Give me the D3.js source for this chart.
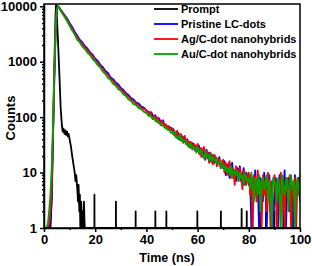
<!DOCTYPE html>
<html>
<head>
<meta charset="utf-8">
<script src="https://cdn.jsdelivr.net/npm/d3@7"></script>
<style>
  body { margin: 0; background: #fff; }
  svg { display: block; font-family: "Liberation Sans", Arial, sans-serif; font-weight: bold; }
</style>
</head>
<body>
<div id="chart"></div>
<script>
// time channels (ns) shared by the three sample curves
const time = [0,0.5,1,1.5,2,2.5,3,3.5,4,4.5,5,5.5,6,6.5,7,7.5,8,8.5,9,9.5,10,
  11,12,13,14,15,16,17,18,19,20,21,22,23,24,25,26,27,28,29,30,31,32,33,34,35,36,37,38,39,
  40,40.5,41,41.5,42,42.5,43,43.5,44,44.5,45,45.5,46,46.5,47,47.5,48,48.5,49,49.5,
  50,50.5,51,51.5,52,52.5,53,53.5,54,54.5,55,55.5,56,56.5,57,57.5,58,58.5,59,59.5,
  60,60.5,61,61.5,62,62.5,63,63.5,64,64.5,65,65.5,66,66.5,67,67.5,68,68.5,69,69.5,
  70,70.5,71,71.5,72,72.5,73,73.5,74,74.5,75,75.5,76,76.5,77,77.5,78,78.5,79,79.5,
  80,80.5,81,81.5,82,82.5,83,83.5,84,84.5,85,85.5,86,86.5,87,87.5,88,88.5,89,89.5,
  90,90.5,91,91.5,92,92.5,93,93.5,94,94.5,95,95.5,96,96.5,97,97.5,98,98.5,99,99.5,100];

const pristine = [1,1,1,1,1,1.3,4,40,400,3000,8500,10000,9500,8700,8100,7500,7000,6500,6000,5500,5000,
  4250,3480,2950,2470,2230,1900,1720,1470,1340,1130,1030,880,795,680,625,520,485,420,390,335,310,270,250,221,208,183,175,155,149,
  130,128,115,109,121,104,96,108,90,88,95,80,77,88,70,73,69,60,67,63,
  58,61,47,53,42,52,39,47,45,36,42,33,40,30,35,28,34,32,25,30,
  25,31,21,27,20,25,17,26,18,23,16,21,20,15,19,17,14,19,13,15,
  12,16,9,14,11,8,13,15,8,11,7,12,10,13,7,9,12,6,10,8,
  6,9,1,8,5,11,4,7,1,8,6,3,10,5,1,7,9,4,6,1,
  4,8,6,1,9,3,7,5,11,1,6,8,2,7,5,1,9,4,6,8,3];

const agHybrid = [1,1,1,1,1.2,2,6,50,500,3300,8800,10000,9300,8500,7900,7300,6800,6200,5700,5200,4700,
  3950,3200,2740,2320,2080,1770,1600,1380,1250,1060,955,815,740,630,580,485,452,388,362,312,290,253,234,206,194,173,163,145,139,
  135,110,119,125,104,92,108,97,84,99,83,72,86,78,66,75,62,70,58,61,
  64,49,55,44,57,41,47,50,36,43,46,33,38,29,36,35,26,33,31,24,
  33,22,28,19,26,29,18,24,22,15,23,20,14,21,19,13,18,17,12,16,
  17,10,15,9,14,16,8,12,11,6,13,10,7,12,9,5,11,10,6,9,
  10,4,8,1,9,6,3,11,5,7,1,9,4,8,2,10,5,1,7,6,
  9,4,1,7,5,10,2,6,1,8,5,3,9,1,6,4,8,1,7,5,9];

const auHybrid = [1,1,1,1.2,2,4,12,70,600,3600,9000,10000,9100,8300,7600,7000,6500,5900,5400,4900,4450,
  3650,3080,2480,2230,1870,1680,1450,1310,1120,1010,865,780,665,600,510,470,400,372,318,300,258,242,208,197,172,165,146,140,125,
  118,115,104,110,99,93,98,85,90,79,80,78,71,70,69,62,64,58,60,52,
  52,50,56,43,45,40,48,38,41,34,38,36,31,34,28,33,27,29,28,23,
  29,24,22,26,21,18,24,19,21,17,22,15,19,17,16,18,14,15,16,12,
  14,11,13,10,12,9,13,8,11,10,9,11,7,10,8,9,6,10,8,7,
  8,5,10,6,3,8,7,4,9,2,7,8,5,6,9,3,7,5,1,8,
  6,7,3,8,5,1,9,6,4,7,8,2,6,9,5,7,1,6,8,4,7];

// instrument response (prompt)
const promptTime = [0,2.5,3,3.5,4,4.5,4.7,5,5.5,6,6.5,7,7.3,7.6,8,8.3,8.6,9,9.3,9.6,10,10.5,11,11.5,12,12.3,12.6,13,13.3,13.5,13.8,14,14.2,14.5,14.8,15,15.3,15.6,15.9];
const promptCounts = [1,1,3,40,700,7000,10500,7000,2200,600,150,70,55,62,50,58,48,55,45,50,40,30,20,14,10,7,9,5,3,6,2,4,1,3,1,2,1,3,1];
const spikeTime = [19.7,28.1,35.8,43.5,47.8,59.9,69.1,77.2,79.2,81.4,84.4,86.7,90,93.5,96.8];
const spikeCounts = [4,3,2,2,2,2,2,2.2,2,2,2,2,2,2,2];

const seriesNames = ["Prompt", "Pristine LC-dots", "Ag/C-dot nanohybrids", "Au/C-dot nanohybrids"];
const seriesColors = ["#000000", "#0000ff", "#ff0000", "#00a300"];

const xTicks = [0, 20, 40, 60, 80, 100];
const xMinor = [10, 30, 50, 70, 90];
const yTicks = [1, 10, 100, 1000, 10000];

let W = 312, H = 266;
let margin = { top: 4, right: 12, bottom: 38, left: 44 };

let svg = d3.select("#chart").append("svg")
  .attr("width", W)
  .attr("height", H);

let x = d3.scaleLinear().domain([0, 100]).range([margin.left, W - margin.right]);
let y = d3.scaleLog().domain([1, 11000]).range([H - margin.bottom, margin.top]);

svg.append("clipPath").attr("id", "clip")
  .append("rect")
  .attr("x", x(0)).attr("y", y(11000))
  .attr("width", x(100) - x(0)).attr("height", y(1) - y(11000));

// build prompt points, spikes as thin vertical strokes
let promptPts = promptTime.map((t, i) => [t, promptCounts[i]]);
spikeTime.forEach((t, i) => {
  promptPts.push([t - 0.02, 1], [t, spikeCounts[i]], [t + 0.02, 1]);
});
promptPts.push([100, 1]);

let allSeries = [
  promptPts,
  time.map((t, i) => [t, pristine[i]]),
  time.map((t, i) => [t, agHybrid[i]]),
  time.map((t, i) => [t, auHybrid[i]])
];

let line = d3.line().x(d => x(d[0])).y(d => y(d[1]));

let plot = svg.append("g").attr("clip-path", "url(#clip)");
allSeries.forEach((s, i) => {
  plot.append("path")
    .datum(s)
    .attr("fill", "none")
    .attr("stroke", seriesColors[i])
    .attr("stroke-width", 1.8)
    .attr("stroke-linejoin", "round")
    .attr("d", line);
});

// axes
svg.append("g")
  .attr("transform", "translate(0," + y(1) + ")")
  .call(d3.axisBottom(x).tickValues(xTicks).tickSize(4).tickSizeOuter(0).tickFormat(d3.format("d")));
svg.append("g")
  .attr("transform", "translate(0," + y(1) + ")")
  .call(d3.axisBottom(x).tickValues(xMinor).tickSize(2).tickSizeOuter(0).tickFormat(""))
  .select(".domain").remove();

svg.append("g")
  .attr("transform", "translate(" + x(0) + ",0)")
  .call(d3.axisLeft(y).tickValues(yTicks).tickSize(4).tickSizeOuter(0).tickFormat(d3.format("d")));
let yMinor = y.ticks().filter(v => yTicks.indexOf(v) < 0);
svg.append("g")
  .attr("transform", "translate(" + x(0) + ",0)")
  .call(d3.axisLeft(y).tickValues(yMinor).tickSize(2).tickSizeOuter(0).tickFormat(""))
  .select(".domain").remove();

svg.selectAll(".tick line").attr("stroke", "#000").attr("stroke-width", 1.5);
svg.selectAll(".domain").attr("stroke", "#000").attr("stroke-width", 1.5);
svg.selectAll(".tick text")
  .attr("fill", "#000")
  .style("font-size", "13px")
  .style("font-weight", "bold")
  .style("font-family", "'Liberation Sans', Arial, sans-serif");

// frame
svg.append("rect")
  .attr("x", x(0)).attr("y", y(11000))
  .attr("width", x(100) - x(0)).attr("height", y(1) - y(11000))
  .attr("fill", "none").attr("stroke", "#000").attr("stroke-width", 1.5);

// axis titles
svg.append("text")
  .attr("x", 167).attr("y", 262)
  .attr("text-anchor", "middle")
  .style("font-size", "12.5px")
  .text("Time (ns)");

svg.append("text")
  .attr("transform", "translate(15," + 118 + ") rotate(-90)")
  .attr("text-anchor", "middle")
  .style("font-size", "13px")
  .text("Counts");

// legend
let legend = svg.append("g").attr("transform", "translate(154,9)");
seriesNames.forEach((name, i) => {
  let row = legend.append("g").attr("transform", "translate(0," + i * 15 + ")");
  row.append("line")
    .attr("x1", 0).attr("x2", 24)
    .attr("stroke", seriesColors[i]).attr("stroke-width", 1.8);
  row.append("text")
    .attr("x", 27).attr("y", 4)
    .style("font-size", "11px")
    .text(name);
});
</script>
</body>
</html>
